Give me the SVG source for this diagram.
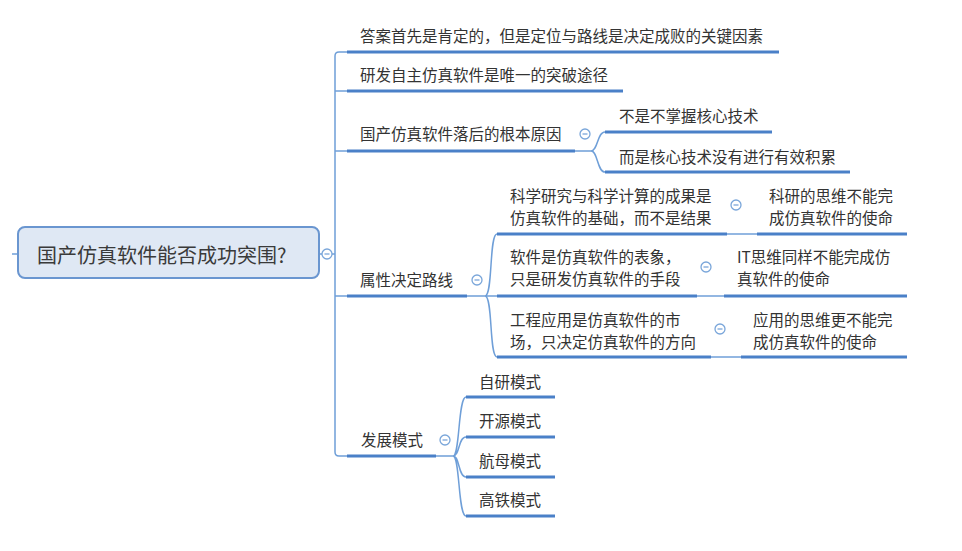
<svg xmlns="http://www.w3.org/2000/svg" width="962" height="551" viewBox="0 0 962 551">
<style>
text{font-family:"Noto Sans CJK SC","Liberation Sans",sans-serif;fill:#333;font-size:15.5px}
.root{font-size:20px;fill:#3a3a3a}
.ul{stroke:#4a80c8;stroke-width:3;fill:none}
.cn{stroke:#6f9fd8;stroke-width:1.5;fill:none}
.tg circle{fill:#fff;stroke:#7aa6da;stroke-width:1.3}
.tg line{stroke:#7aa6da;stroke-width:1.3}
</style>
<defs>
<g id="tog" class="tg"><circle r="5"/><line x1="-2.5" y1="0" x2="2.5" y2="0"/></g>
</defs>
<rect width="962" height="551" fill="#fff"/>
<g id="connectors">
<line class="cn" x1="12" y1="254" x2="18" y2="254"/>
<line class="cn" x1="319" y1="254" x2="335" y2="254"/>
<path class="cn" d="M347,52 H339 Q335,52 335,56 V452 Q335,456 339,456 H347"/>
<line class="cn" x1="335" y1="91" x2="347" y2="91"/>
<line class="cn" x1="335" y1="151" x2="347" y2="151"/>
<line class="cn" x1="335" y1="296" x2="347" y2="296"/>
<path class="cn" d="M575,151 H591 C598,151 597,132 605,132 M591,151 C598,151 597,172 605,172"/>
<path class="cn" d="M467,296 H485 C493,296 489,234 497,234 M485,296 H497 M485,296 C493,296 489,357 497,357"/>
<path class="cn" d="M436,456 H453 C460,456 458,397 466,397 M453,456 C460,456 458,437 466,437 M453,456 C460,456 458,477 466,477 M453,456 C460,456 458,516 466,516"/>
<line class="cn" x1="727" y1="234" x2="757" y2="234"/>
<line class="cn" x1="697" y1="296" x2="724" y2="296"/>
<line class="cn" x1="711" y1="357" x2="741" y2="357"/>
</g>
<g id="root">
<rect x="18" y="227" width="301" height="51" rx="7" fill="#dfe8f4" stroke="#6a96d0" stroke-width="2"/>
<text class="root" x="37" y="262.5">国产仿真软件能否成功突围?</text>
<use href="#tog" x="327" y="254"/>
</g>
<g id="b1">
<line class="ul" x1="347" y1="52" x2="779" y2="52"/>
<text x="360" y="41.5">答案首先是肯定的，但是定位与路线是决定成败的关键因素</text>
</g>
<g id="b2">
<line class="ul" x1="347" y1="91" x2="623" y2="91"/>
<text x="360" y="80.5">研发自主仿真软件是唯一的突破途径</text>
</g>
<g id="b3">
<line class="ul" x1="347" y1="151" x2="575" y2="151"/>
<text x="360" y="139.5">国产仿真软件落后的根本原因</text>
<use href="#tog" x="585" y="134"/>
</g>
<g id="b3a">
<line class="ul" x1="605" y1="132" x2="772" y2="132"/>
<text x="619" y="121.5">不是不掌握核心技术</text>
</g>
<g id="b3b">
<line class="ul" x1="605" y1="172" x2="850" y2="172"/>
<text x="619" y="162.5">而是核心技术没有进行有效积累</text>
</g>
<g id="b4">
<line class="ul" x1="347" y1="296" x2="467" y2="296"/>
<text x="360" y="285.5">属性决定路线</text>
<use href="#tog" x="477" y="280"/>
</g>
<g id="b4a">
<line class="ul" x1="497" y1="234" x2="727" y2="234"/>
<text x="510" y="201.5">科学研究与科学计算的成果是</text>
<text x="510" y="223.5">仿真软件的基础，而不是结果</text>
<use href="#tog" x="736" y="205"/>
</g>
<g id="b4a1">
<line class="ul" x1="757" y1="234" x2="907" y2="234"/>
<text x="769" y="201.5">科研的思维不能完</text>
<text x="769" y="223.5">成仿真软件的使命</text>
</g>
<g id="b4b">
<line class="ul" x1="497" y1="296" x2="697" y2="296"/>
<text x="510" y="262.5">软件是仿真软件的表象，</text>
<text x="510" y="284.5">只是研发仿真软件的手段</text>
<use href="#tog" x="706" y="267"/>
</g>
<g id="b4b1">
<line class="ul" x1="724" y1="296" x2="907" y2="296"/>
<text x="737" y="262.5">IT思维同样不能完成仿</text>
<text x="737" y="284.5">真软件的使命</text>
</g>
<g id="b4c">
<line class="ul" x1="497" y1="357" x2="711" y2="357"/>
<text x="510" y="325.5">工程应用是仿真软件的市</text>
<text x="510" y="347.5">场，只决定仿真软件的方向</text>
<use href="#tog" x="720" y="329"/>
</g>
<g id="b4c1">
<line class="ul" x1="741" y1="357" x2="907" y2="357"/>
<text x="753" y="325.5">应用的思维更不能完</text>
<text x="753" y="347.5">成仿真软件的使命</text>
</g>
<g id="b5">
<line class="ul" x1="347" y1="456" x2="436" y2="456"/>
<text x="361" y="445.5">发展模式</text>
<use href="#tog" x="445" y="440"/>
</g>
<g id="b5a">
<line class="ul" x1="466" y1="397" x2="555" y2="397"/>
<text x="479" y="387.5">自研模式</text>
</g>
<g id="b5b">
<line class="ul" x1="466" y1="437" x2="555" y2="437"/>
<text x="479" y="426.5">开源模式</text>
</g>
<g id="b5c">
<line class="ul" x1="466" y1="477" x2="555" y2="477"/>
<text x="479" y="466.5">航母模式</text>
</g>
<g id="b5d">
<line class="ul" x1="466" y1="516" x2="555" y2="516"/>
<text x="479" y="505.5">高铁模式</text>
</g>
</svg>
